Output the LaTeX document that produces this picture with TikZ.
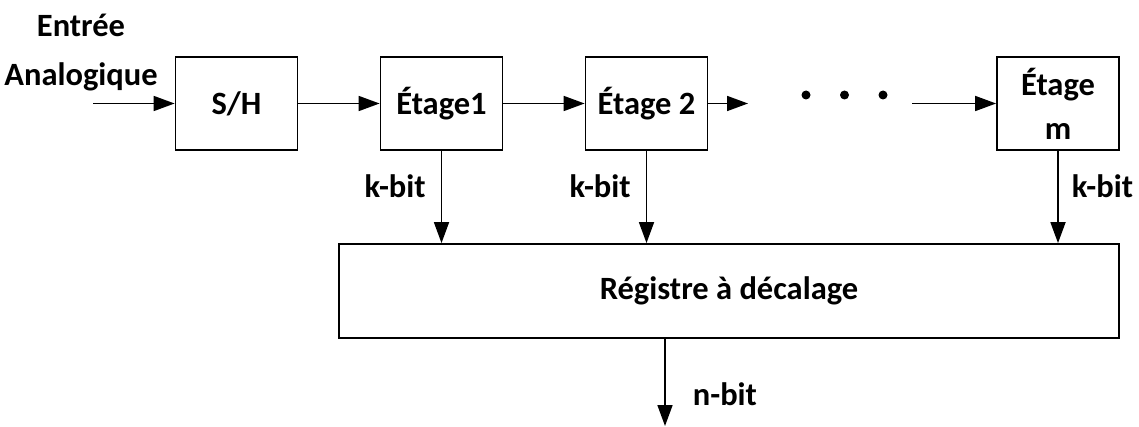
\documentclass[tikz,border=0pt]{standalone}
\usepackage{fontspec}
\setmainfont{Carlito}
\usetikzlibrary{positioning,arrows.meta}

\begin{document}
\begin{tikzpicture}[x=1pt,y=-1pt,
			font=\bfseries\fontsize{32.5}{37}\selectfont,
			bloc/.style = {draw, line width=1.8pt, minimum width=122pt, minimum height=93pt, inner sep=0pt},
			fleche/.style = {-{Triangle[length=21pt,width=15pt]}, line width=1.7pt},
			bits/.style = {inner sep=0pt},
			node distance=205pt]
			\useasboundingbox (0,0) rectangle (1139,427);
			\node[align=center] (entree) at (81,53) {Entrée\\[12pt]Analogique};
			\node[bloc] (sh) at (236.5,103.5) {S/H};
			\node[bloc] (e1) [right of=sh] {Étage1};
			\node[bloc] (e2) [right of=e1] {Étage 2};
			\node[bloc, align=center] (em) [right of=e2, node distance=411.5pt] {Étage\\[7pt]m};
			\node[draw, line width=1.8pt, minimum width=780pt, minimum height=94pt] (reg) at (729,291) {Régistre à décalage};
			\coordinate (in) at (93,103.5);
			\coordinate (p1) at (748,103.5);
			\coordinate (p2) at (912,103.5);
			\coordinate (sortie) at (665,426);
			\foreach \x in {806,844.5,883}
				\fill (\x,95) circle (4.5pt);
			\draw[fleche] (in) -- (sh);
			\draw[fleche] (sh) -- (e1);
			\draw[fleche] (e1) -- (e2);
			\draw[fleche] (e2) -- (p1);
			\draw[fleche] (p2) -- (em);
			\draw[fleche] (e1) -- node[bits, left=15pt, pos=0.38] {k-bit} (e1 |- reg.north);
			\draw[fleche] (e2) -- node[bits, left=15pt, pos=0.38] {k-bit} (e2 |- reg.north);
			\draw[fleche] (em) -- node[bits, right=13pt, pos=0.38] {k-bit} (em |- reg.north);
			\draw[fleche] (reg.south -| sortie) -- node[bits, right=27pt, pos=0.64] {n-bit} (sortie);
		\end{tikzpicture}
\end{document}
